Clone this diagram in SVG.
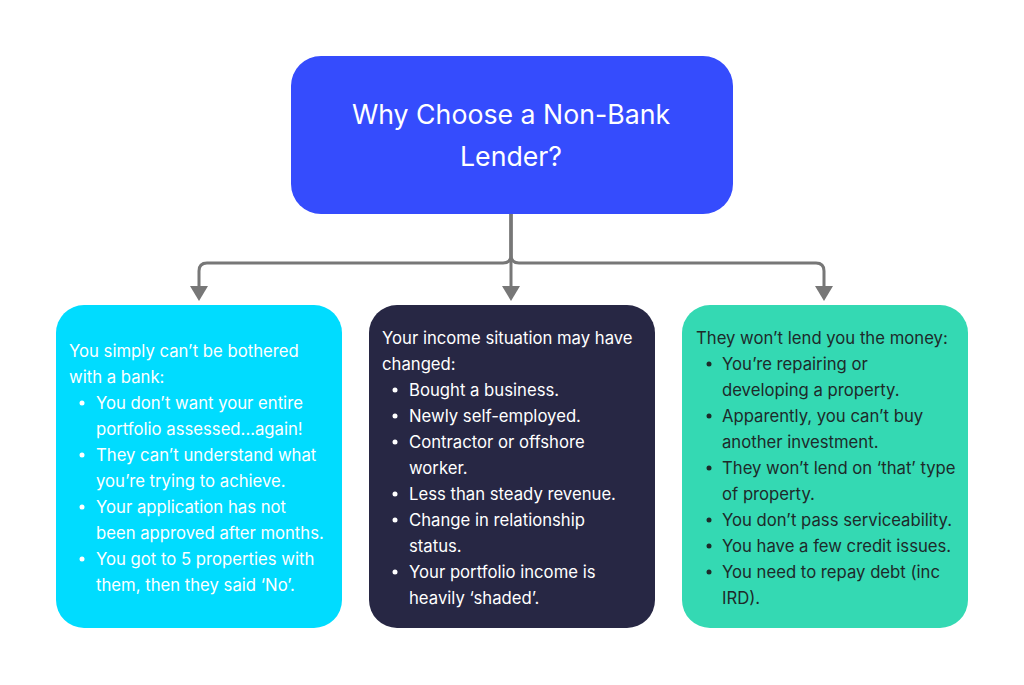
<svg xmlns="http://www.w3.org/2000/svg" width="1024" height="685" viewBox="0 0 1024 685">
<defs>
<style>
text{font-family:Inter,"Noto Sans","Liberation Sans",sans-serif;}
.t{font-size:16.7px;}
.w{fill:#ffffff;}
.d{fill:#1e2a2a;}
.title{font-size:26.7px;fill:#ffffff;text-anchor:middle;}
.c{fill:none;stroke:#777777;stroke-width:3;}
</style>
</defs>
<rect width="1024" height="685" fill="#ffffff"/>
<g id="connectors">
<path class="c" d="M511,214 V286"/>
<path class="c" d="M511,214 V255 Q511,263 503,263 H207 Q199,263 199,271 V286"/>
<path class="c" d="M511,214 V255 Q511,263 519,263 H816 Q824,263 824,271 V286"/>
<path d="M190,286 L208,286 L199,301 Z" fill="#777777"/>
<path d="M502,286 L520,286 L511,301 Z" fill="#777777"/>
<path d="M815,286 L833,286 L824,301 Z" fill="#777777"/>
</g>
<g id="root">
<rect x="291" y="56" width="442" height="158" rx="30" fill="#354cfd"/>
<text class="title" x="511" y="124">Why Choose a Non-Bank</text>
<text class="title" x="511" y="166">Lender?</text>
</g>
<g id="bank">
<rect x="56" y="305" width="286" height="323" rx="28" fill="#00dcff"/>
<text class="t w" x="69" y="357">You simply can’t be bothered</text>
<text class="t w" x="69" y="383">with a bank:</text>
<g class="t w">
<circle cx="82" cy="403" r="2.5" fill="#fff"/><text x="96" y="409">You don’t want your entire</text>
<text x="96" y="435">portfolio assessed...again!</text>
<circle cx="82" cy="455" r="2.5" fill="#fff"/><text x="96" y="461">They can’t understand what</text>
<text x="96" y="487">you’re trying to achieve.</text>
<circle cx="82" cy="507" r="2.5" fill="#fff"/><text x="96" y="513">Your application has not</text>
<text x="96" y="539">been approved after months.</text>
<circle cx="82" cy="559" r="2.5" fill="#fff"/><text x="96" y="565">You got to 5 properties with</text>
<text x="96" y="591">them, then they said ‘No’.</text>
</g>
</g>
<g id="income">
<rect x="369" y="305" width="286" height="323" rx="28" fill="#272744"/>
<text class="t w" x="382" y="344">Your income situation may have</text>
<text class="t w" x="382" y="370">changed:</text>
<g class="t w">
<circle cx="395" cy="390" r="2.5" fill="#fff"/><text x="409" y="396">Bought a business.</text>
<circle cx="395" cy="416" r="2.5" fill="#fff"/><text x="409" y="422">Newly self-employed.</text>
<circle cx="395" cy="442" r="2.5" fill="#fff"/><text x="409" y="448">Contractor or offshore</text>
<text x="409" y="474">worker.</text>
<circle cx="395" cy="494" r="2.5" fill="#fff"/><text x="409" y="500">Less than steady revenue.</text>
<circle cx="395" cy="520" r="2.5" fill="#fff"/><text x="409" y="526">Change in relationship</text>
<text x="409" y="552">status.</text>
<circle cx="395" cy="572" r="2.5" fill="#fff"/><text x="409" y="578">Your portfolio income is</text>
<text x="409" y="604">heavily ‘shaded’.</text>
</g>
</g>
<g id="lend">
<rect x="682" y="305" width="286" height="323" rx="28" fill="#34d9b3"/>
<text class="t d" x="696" y="344">They won’t lend you the money:</text>
<g class="t d">
<circle cx="709" cy="364" r="2.5" fill="#1e2a2a"/><text x="722" y="370">You’re repairing or</text>
<text x="722" y="396">developing a property.</text>
<circle cx="709" cy="416" r="2.5" fill="#1e2a2a"/><text x="722" y="422">Apparently, you can’t buy</text>
<text x="722" y="448">another investment.</text>
<circle cx="709" cy="468" r="2.5" fill="#1e2a2a"/><text x="722" y="474">They won’t lend on ‘that’ type</text>
<text x="722" y="500">of property.</text>
<circle cx="709" cy="520" r="2.5" fill="#1e2a2a"/><text x="722" y="526">You don’t pass serviceability.</text>
<circle cx="709" cy="546" r="2.5" fill="#1e2a2a"/><text x="722" y="552">You have a few credit issues.</text>
<circle cx="709" cy="572" r="2.5" fill="#1e2a2a"/><text x="722" y="578">You need to repay debt (inc</text>
<text x="722" y="604">IRD).</text>
</g>
</g>
</svg>
